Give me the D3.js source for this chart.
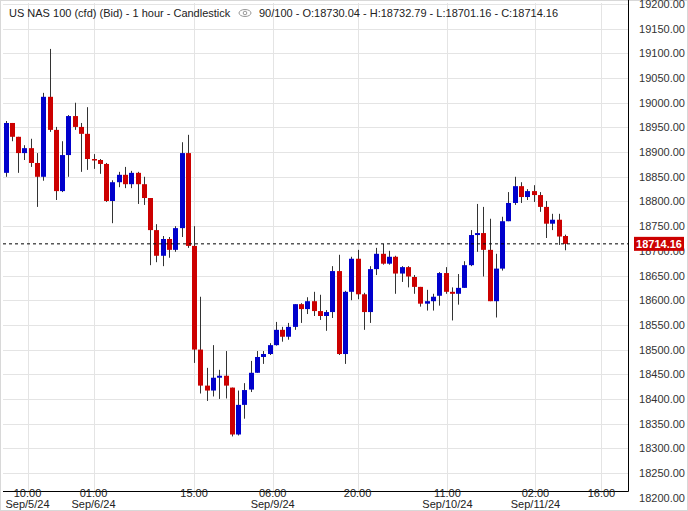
<!DOCTYPE html>
<html>
<head>
<meta charset="utf-8">
<script src="https://cdn.jsdelivr.net/npm/d3@7"></script>
<style>
  body { margin: 0; background: #fff; }
  svg { font-family: "Liberation Sans", Arial, sans-serif; }
</style>
</head>
<body>
<svg id="chart"></svg>
<script>
const title = 'US NAS 100 (cfd) (Bid) - 1 hour - Candlestick'
const info = '90/100 - O:18730.04 - H:18732.79 - L:18701.16 - C:18714.16'
const lastPrice = 18714.16

const opens = [18858, 18959, 18931, 18898, 18908, 18878, 18850, 19012, 18945, 18821,
    18894, 18973, 18951, 18937, 18886, 18884, 18876, 18801, 18839, 18854,
    18835, 18858, 18835, 18807, 18742, 18690, 18724, 18702, 18746, 18898,
    18710, 18500, 18427, 18417, 18443, 18447, 18423, 18328, 18388, 18419,
    18453, 18485, 18491, 18509, 18540, 18526, 18546, 18592, 18582, 18598,
    18578, 18568, 18576, 18659, 18491, 18617, 18684, 18612, 18576, 18663,
    18694, 18674, 18688, 18654, 18667, 18647, 18627, 18593, 18598, 18609,
    18655, 18617, 18613, 18625, 18671, 18732, 18736, 18702, 18598, 18664,
    18760, 18797, 18831, 18809, 18821, 18813, 18789, 18755, 18763, 18730.04]
const highs = [18963, 18959, 18931, 18914, 18927, 18898, 19020, 19109, 18951, 18922,
    18975, 19000, 18959, 18991, 18896, 18886, 18878, 18843, 18860, 18870,
    18862, 18860, 18850, 18807, 18754, 18730, 18728, 18750, 18920, 18935,
    18750, 18607, 18463, 18509, 18459, 18497, 18423, 18417, 18432, 18477,
    18497, 18497, 18513, 18556, 18546, 18554, 18592, 18594, 18606, 18617,
    18611, 18580, 18669, 18692, 18619, 18688, 18702, 18615, 18669, 18706,
    18714, 18700, 18690, 18669, 18669, 18651, 18627, 18621, 18613, 18657,
    18667, 18626, 18653, 18679, 18742, 18795, 18789, 18765, 18694, 18769,
    18819, 18850, 18839, 18825, 18833, 18819, 18801, 18775, 18775, 18732.79]
const lows = [18850, 18922, 18858, 18884, 18870, 18789, 18842, 18941, 18803, 18819,
    18850, 18945, 18860, 18864, 18866, 18856, 18799, 18756, 18829, 18827,
    18827, 18795, 18793, 18671, 18677, 18669, 18686, 18698, 18728, 18706,
    18473, 18411, 18396, 18405, 18400, 18401, 18324, 18326, 18360, 18414,
    18453, 18471, 18489, 18508, 18516, 18520, 18540, 18554, 18572, 18568,
    18560, 18538, 18564, 18489, 18471, 18600, 18602, 18540, 18554, 18651,
    18672, 18672, 18613, 18637, 18626, 18613, 18587, 18579, 18579, 18589,
    18613, 18559, 18591, 18625, 18669, 18698, 18648, 18598, 18565, 18660,
    18760, 18793, 18797, 18803, 18799, 18779, 18726, 18742, 18712, 18701.16]
const closes = [18959, 18931, 18898, 18908, 18878, 18850, 19012, 18945, 18821, 18894,
    18973, 18951, 18937, 18886, 18884, 18876, 18801, 18839, 18854, 18835,
    18858, 18835, 18807, 18742, 18690, 18724, 18702, 18746, 18898, 18710,
    18500, 18427, 18417, 18443, 18447, 18427, 18328, 18388, 18418, 18453,
    18485, 18491, 18509, 18540, 18526, 18546, 18592, 18582, 18598, 18578,
    18568, 18576, 18659, 18491, 18617, 18684, 18612, 18576, 18663, 18694,
    18674, 18688, 18654, 18667, 18648, 18627, 18593, 18598, 18607, 18655,
    18617, 18613, 18625, 18671, 18732, 18736, 18702, 18598, 18664, 18760,
    18797, 18831, 18809, 18821, 18813, 18789, 18755, 18763, 18729, 18714.16]

// time axis ticks, positioned in candle-index units
const tickIndex = [3.5, 14, 30, 42.5, 56, 70.3, 84.3, 94.8]
const tickTime = ['10:00', '01:00', '15:00', '06:00', '20:00', '11:00', '02:00', '16:00']
const tickDate = ['Sep/5/24', 'Sep/6/24', '', 'Sep/9/24', '', 'Sep/10/24', 'Sep/11/24', '']
const priceTicks = d3.range(18200, 19201, 50)

const width = 688
const height = 511
const plot = { left: 3, right: 628, top: 3, bottom: 491 }

const svg = d3.select('#chart').attr('width', width).attr('height', height)

const x = d3.scaleLinear().domain([0, 89]).range([5.5, 565])
const y = d3.scaleLinear().domain([18250, 19200]).range([473, 4])

// outer frame
svg.append('rect')
    .attr('x', 0.5).attr('y', 0.5).attr('width', width - 1).attr('height', height - 1)
    .attr('fill', 'none').attr('stroke', '#d8d8d8')

const clip = svg.append('clipPath').attr('id', 'plot-clip')
    .append('rect')
    .attr('x', plot.left).attr('y', plot.top)
    .attr('width', plot.right - plot.left).attr('height', plot.bottom - plot.top)

const grid = svg.append('g').attr('clip-path', 'url(#plot-clip)')

grid.selectAll('line.h')
    .data(priceTicks)
    .join('line')
    .attr('class', 'h')
    .attr('x1', plot.left).attr('x2', plot.right)
    .attr('y1', d => Math.round(y(d)) + 0.5).attr('y2', d => Math.round(y(d)) + 0.5)
    .attr('stroke', '#e4e4e4')

grid.selectAll('line.v')
    .data(tickIndex)
    .join('line')
    .attr('class', 'v')
    .attr('x1', d => Math.round(x(d)) + 0.5).attr('x2', d => Math.round(x(d)) + 0.5)
    .attr('y1', plot.top).attr('y2', plot.bottom)
    .attr('stroke', '#e4e4e4')

// candles
const candles = svg.append('g').attr('clip-path', 'url(#plot-clip)')
    .selectAll('g')
    .data(d3.range(opens.length))
    .join('g')

candles.append('line')
    .attr('x1', i => Math.round(x(i)) + 0.5).attr('x2', i => Math.round(x(i)) + 0.5)
    .attr('y1', i => y(highs[i])).attr('y2', i => y(lows[i]))
    .attr('stroke', '#333').attr('stroke-width', 1)

candles.append('rect')
    .attr('x', i => Math.round(x(i)) - 2)
    .attr('width', 5)
    .attr('y', i => y(Math.max(opens[i], closes[i])))
    .attr('height', i => Math.max(1.5, Math.abs(y(opens[i]) - y(closes[i]))))
    .attr('fill', i => closes[i] >= opens[i] ? '#0000cc' : '#cc0000')

// last price line
svg.append('line')
    .attr('x1', plot.left).attr('x2', plot.right)
    .attr('y1', y(lastPrice)).attr('y2', y(lastPrice))
    .attr('stroke', '#000').attr('stroke-dasharray', '3,3')

// axes lines
svg.append('line')
    .attr('x1', plot.left).attr('x2', plot.right + 0.5)
    .attr('y1', plot.bottom + 0.5).attr('y2', plot.bottom + 0.5)
    .attr('stroke', '#000')
svg.append('line')
    .attr('x1', plot.right + 0.5).attr('x2', plot.right + 0.5)
    .attr('y1', 0).attr('y2', plot.bottom + 0.5)
    .attr('stroke', '#000')

// price labels
svg.append('g').selectAll('text')
    .data(priceTicks)
    .join('text')
    .attr('x', 685).attr('y', d => y(d) + 4)
    .attr('text-anchor', 'end')
    .attr('font-size', 11).attr('fill', '#333')
    .text(d => d3.format('.2f')(d))

const tag = svg.append('g').attr('transform', `translate(634,${y(lastPrice)})`)
tag.append('rect').attr('x', 0).attr('y', -7).attr('width', 50).attr('height', 14).attr('fill', '#cc0000')
tag.append('text').attr('x', 25).attr('y', 4).attr('text-anchor', 'middle')
    .attr('font-size', 11).attr('font-weight', 'bold').attr('fill', '#fff')
    .text(d3.format('.2f')(lastPrice))

// time labels
const timeLabels = svg.append('g').selectAll('g')
    .data(tickIndex)
    .join('g')
    .attr('transform', d => `translate(${x(d)},0)`)
timeLabels.append('text')
    .attr('y', 497).attr('text-anchor', 'middle')
    .attr('font-size', 11).attr('fill', '#222')
    .text((d, i) => tickTime[i])
timeLabels.append('text')
    .attr('y', 508).attr('text-anchor', 'middle')
    .attr('font-size', 11).attr('fill', '#222')
    .text((d, i) => tickDate[i])

// header
svg.append('text').attr('x', 9).attr('y', 17)
    .attr('font-size', 11).attr('fill', '#222').text(title)
const eye = svg.append('g').attr('transform', 'translate(245,13)')
eye.append('ellipse').attr('rx', 6).attr('ry', 3.5).attr('fill', 'none').attr('stroke', '#999')
eye.append('circle').attr('r', 1.8).attr('fill', 'none').attr('stroke', '#999')
svg.append('text').attr('x', 259).attr('y', 17)
    .attr('font-size', 11).attr('fill', '#222').text(info)
</script>
</body>
</html>
